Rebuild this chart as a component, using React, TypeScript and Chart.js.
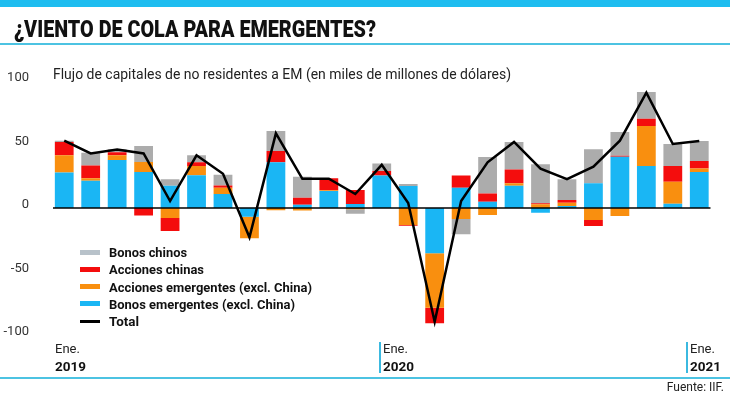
import React, { useEffect, useLayoutEffect, useRef } from 'react';
import { Chart, registerables } from 'chart.js';

Chart.register(...registerables);

const months = [
  'Ene 2019', 'Feb 2019', 'Mar 2019', 'Abr 2019', 'May 2019', 'Jun 2019', 'Jul 2019', 'Ago 2019', 'Sep 2019', 'Oct 2019', 'Nov 2019', 'Dic 2019',
  'Ene 2020', 'Feb 2020', 'Mar 2020', 'Abr 2020', 'May 2020', 'Jun 2020', 'Jul 2020', 'Ago 2020', 'Sep 2020', 'Oct 2020', 'Nov 2020', 'Dic 2020',
  'Ene 2021',
];

const bonosEmergentes = [28, 21.5, 37.8, 28.3, 17.6, 25.7, 11, -6.8, 36, 2.6, 13.4, 3.1, 25.5, 17.3, -35.7, 16, 5, 17.6, -3.7, 1.6, 19.4, 40.4, 33, 3.4, 28.3];
const accionesEmergentes = [13.5, 2, 3.7, 7.9, -7.9, 7.3, 5, -17, -1.8, -2, 0.5, -1, 0, -13.4, -42.8, -8.7, -5.5, 1.8, 2.9, 2.6, -9.4, -6.3, 31.5, 17.3, 2.9];
const accionesChinas = [10.5, 10, 2.3, -6, -10.2, 3, 1.8, 0, 8.9, 5.5, 9.5, 11, 3.6, -0.5, -12.3, 9.5, 6.5, 11, 0.8, 2.1, -4.7, 0.8, 5.8, 12.3, 5.8];
const bonosChinos = [1, 10, 2.4, 12.6, 5, 5.5, 8.4, 0, 15.7, 16.6, 0, -3.5, 6, 1.6, 0, -12, 28.7, 21.6, 30.7, 16.3, 26.8, 18.6, 21, 17.3, 15.7];
const total = [53, 43, 46, 43, 5.5, 41.5, 27, -23, 58.8, 23, 23, 11, 34, 4, -89.5, 5.5, 36, 52, 31, 22.8, 32.5, 53, 90.8, 50.4, 52.8];

const yTicks = [-100, -50, 0, 50, 100];

const title = '¿VIENTO DE COLA PARA EMERGENTES?';
const subtitle = 'Flujo de capitales de no residentes a EM (en miles de millones de dólares)';
const source = 'Fuente: IIF.';

const BLUE = '#1ab6f4';
const ORANGE = '#f98f0f';
const RED = '#f40d0d';
const GRAY = '#acacac';
const CYAN = '#1ebdf0';

const legendItems = [
  { label: 'Bonos chinos', color: '#b8c2ca', h: 5 },
  { label: 'Acciones chinas', color: RED, h: 5 },
  { label: 'Acciones emergentes (excl. China)', color: ORANGE, h: 5 },
  { label: 'Bonos emergentes (excl. China)', color: BLUE, h: 5 },
  { label: 'Total', color: '#000', h: 3 },
];
const legendWidths = [78, 95, 203, 186, 30];

const periodLabels = [
  { month: 'Ene.', year: '2019', x: 55, sep: false },
  { month: 'Ene.', year: '2020', x: 383, sep: true },
  { month: 'Ene.', year: '2021', x: 690, sep: true },
];

function FitText({ text, width, style }: { text: string; width: number; style?: React.CSSProperties }) {
  const ref = useRef<HTMLSpanElement>(null);
  useLayoutEffect(() => {
    const el = ref.current;
    if (!el) return;
    el.style.transform = 'none';
    const w = el.getBoundingClientRect().width;
    if (w > 0) el.style.transform = `scaleX(${width / w})`;
  }, [text, width]);
  return (
    <span
      ref={ref}
      style={{ display: 'inline-block', whiteSpace: 'nowrap', transformOrigin: 'left center', ...style }}
    >
      {text}
    </span>
  );
}

const zeroLine = {
  id: 'zeroLine',
  afterDatasetsDraw(chart: any) {
    const { ctx, chartArea, scales } = chart;
    const y = scales.y.getPixelForValue(0);
    ctx.save();
    ctx.strokeStyle = '#000';
    ctx.lineWidth = 1.5;
    ctx.beginPath();
    ctx.moveTo(chartArea.left + 2, y);
    ctx.lineTo(chartArea.right - 2, y);
    ctx.stroke();
    ctx.restore();
  },
};

export default function App() {
  const canvasRef = useRef<HTMLCanvasElement>(null);

  useEffect(() => {
    const canvas = canvasRef.current;
    if (!canvas) return;
    const chart = new Chart(canvas, {
      type: 'bar',
      data: {
        labels: months,
        datasets: [
          { type: 'line', label: 'Total', data: total, borderColor: '#000', backgroundColor: '#000', borderWidth: 2.5, pointRadius: 0, tension: 0, order: 0, stack: 'total' } as any,
          { label: 'Bonos emergentes (excl. China)', data: bonosEmergentes, backgroundColor: BLUE, order: 1, stack: 'flows' },
          { label: 'Acciones emergentes (excl. China)', data: accionesEmergentes, backgroundColor: ORANGE, order: 1, stack: 'flows' },
          { label: 'Acciones chinas', data: accionesChinas, backgroundColor: RED, order: 1, stack: 'flows' },
          { label: 'Bonos chinos', data: bonosChinos, backgroundColor: GRAY, order: 1, stack: 'flows' },
        ],
      },
      options: {
        responsive: false,
        animation: false,
        maintainAspectRatio: false,
        layout: { padding: { left: 0, right: 17.5, top: 81, bottom: 59 } },
        datasets: { bar: { categoryPercentage: 1, barPercentage: 0.71, borderWidth: 0 } },
        plugins: { legend: { display: false }, tooltip: { enabled: false } },
        scales: {
          x: { stacked: true, display: false, offset: true, grid: { display: false } },
          y: {
            stacked: true,
            min: yTicks[0],
            max: yTicks[yTicks.length - 1],
            afterFit: (a: any) => { a.width = 51; },
            afterBuildTicks: (a: any) => { a.ticks = yTicks.map((v) => ({ value: v })); },
            ticks: { stepSize: 50, padding: 14, labelOffset: -3, color: '#333', font: { family: 'Roboto, Arial, sans-serif', size: 13 } },
            grid: { display: false },
            border: { display: false },
          },
        },
      } as any,
      plugins: [zeroLine],
    });
    return () => chart.destroy();
  }, []);

  return (
    <div style={{ position: 'fixed', left: 0, top: 0, width: 730, height: 394, background: '#fff', overflow: 'hidden', fontFamily: 'Roboto, Arial, sans-serif' }}>
      <canvas ref={canvasRef} width={730} height={394} style={{ position: 'absolute', left: 0, top: 0, width: 730, height: 394 }} />
      <div style={{ position: 'absolute', left: 0, top: 0, width: 730, height: 7, background: CYAN }} />
      <div style={{ position: 'absolute', left: 14, top: 17, lineHeight: '26px' }}>
        <FitText text={title} width={362} style={{ fontSize: 23, fontWeight: 900, color: '#111' }} />
      </div>
      <div style={{ position: 'absolute', left: 0, top: 43, width: 730, height: 2, background: '#4cc3e2' }} />
      <div style={{ position: 'absolute', left: 53, top: 65, lineHeight: '18px' }}>
        <FitText text={subtitle} width={458} style={{ fontSize: 14.5, color: '#222' }} />
      </div>
      {legendItems.map((it, i) => {
        const cy = 252 + i * 17.3;
        return (
          <React.Fragment key={it.label}>
            <div style={{ position: 'absolute', left: 80, top: cy - it.h / 2, width: 20, height: it.h, background: it.color }} />
            <div style={{ position: 'absolute', left: 109, top: cy - 9, lineHeight: '18px' }}>
              <FitText text={it.label} width={legendWidths[i]} style={{ fontSize: 13.5, fontWeight: 700, color: '#111' }} />
            </div>
          </React.Fragment>
        );
      })}
      {periodLabels.map((p) => (
        <React.Fragment key={p.year}>
          {p.sep && <div style={{ position: 'absolute', left: p.x - 4, top: 342, width: 2, height: 31, background: '#3bb9e0' }} />}
          <div style={{ position: 'absolute', left: p.x, top: 341, lineHeight: '16px', fontSize: 13, color: '#222' }}>{p.month}</div>
          <div style={{ position: 'absolute', left: p.x, top: 358, lineHeight: '16px', fontSize: 13.5, fontWeight: 700, color: '#111' }}>{p.year}</div>
        </React.Fragment>
      ))}
      <div style={{ position: 'absolute', left: 0, top: 377, width: 730, height: 2, background: '#4cc3e2' }} />
      <div style={{ position: 'absolute', right: 6, top: 380, lineHeight: '14px', fontSize: 12, color: '#222' }}>{source}</div>
    </div>
  );
}
